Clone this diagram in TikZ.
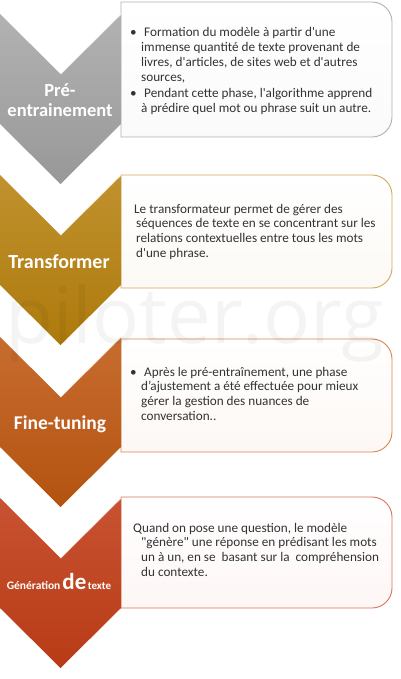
\documentclass[tikz,border=0pt]{standalone}
\usepackage{fontspec}
\newfontfamily\cfont{Carlito}
\newfontfamily\wfont{Open Sans}
\definecolor{txt}{HTML}{333333}
\definecolor{grayT}{HTML}{B2B2B2}\definecolor{grayB}{HTML}{989898}\definecolor{grayE}{HTML}{B0B0B0}
\definecolor{goldT}{HTML}{C0912E}\definecolor{goldB}{HTML}{AD7A0C}\definecolor{goldE}{HTML}{D2A85A}
\definecolor{oranT}{HTML}{C76C30}\definecolor{oranB}{HTML}{B45310}\definecolor{oranE}{HTML}{D8864E}
\definecolor{redT}{HTML}{C85232}\definecolor{redB}{HTML}{B83B15}\definecolor{redE}{HTML}{DC7258}
\newcommand\mychevron[3]{%
  \shade[top color=#2,bottom color=#3] (0,#1) -- (60.5,#1+60) -- (121,#1) -- (121,#1+110) -- (60.5,#1+170) -- (0,#1+110) -- cycle;
  \draw[white,line width=1.1pt,opacity=.75] (60.5,#1+60) -- (121,#1);}
\newcommand\mytextbox[3]{%
  \shadedraw[top color=white,bottom color=#3!6,draw=#3,line width=0.9pt]
    (121,#1) -- (372,#1) .. controls (383,#1) and (392,#1+9) .. (392,#1+20)
    -- (392,#2-20) .. controls (392,#2-9) and (383,#2) .. (372,#2) -- (121,#2) -- cycle;}
\begin{document}
\begin{tikzpicture}[x=1pt,y=-1pt,
  lab/.style={text=white,inner sep=0pt,anchor=base},
  labfont/.style={font=\cfont\bfseries\fontsize{#1}{#1}\selectfont},
  body/.style={text=txt,inner sep=0pt,anchor=base west,font=\cfont\fontsize{13.2}{14.8}\selectfont}]
\useasboundingbox (0,0) rectangle (400,679);
% text boxes
\mytextbox{2}{137}{grayE}
\mytextbox{175}{288}{goldE}
\mytextbox{339}{452}{oranE}
\mytextbox{497}{608}{redE}
% chevrons
\mychevron{14}{grayT}{grayB}
\mychevron{175}{goldT}{goldB}
\mychevron{337}{oranT}{oranB}
\mychevron{498}{redT}{redB}
% chevron labels
\node[lab,labfont=18.5] (l1a) at (60,97) {Pré-};
\node[lab,labfont=18.5] (l1b) at (60,117) {entrainement};
\node[lab,labfont=20] (l2) at (59,268) {Transformer};
\node[lab,labfont=19.5] (l3) at (60,429) {Fine-tuning};
\node[lab,font=\cfont\bfseries] (l4) at (59,589) {\fontsize{11.5}{12}\selectfont Génération\hspace{2pt}\fontsize{23}{24}\selectfont de\hspace{1.5pt}\fontsize{11}{12}\selectfont texte};
% box 1
\node[body] (b1a) at (130,37) {\textbullet};
\node[body] (t1a) at (141,37) {\begin{tabular}[t]{@{}l@{}}\hspace{3pt}Formation du modèle à partir d'une\\immense quantité de texte provenant de\\livres, d'articles, de sites web et d'autres\\sources,\end{tabular}};
\node[body] (b1b) at (130,98) {\textbullet};
\node[body] (t1b) at (141,98) {\begin{tabular}[t]{@{}l@{}}\hspace{3pt}Pendant cette phase, l'algorithme apprend\\à prédire quel mot ou phrase suit un autre.\end{tabular}};
% box 2
\node[body] (t2) at (136,213) {\begin{tabular}[t]{@{}l@{}}\hspace{-2pt}Le transformateur permet de gérer des\\séquences de texte en se concentrant sur les\\relations contextuelles entre tous les mots\\d'une phrase.\end{tabular}};
% box 3
\node[body] (b3) at (130,376) {\textbullet};
\node[body] (t3) at (141,376) {\begin{tabular}[t]{@{}l@{}}\hspace{3pt}Après le pré-entraînement, une phase\\d’ajustement a été effectuée pour mieux\\gérer la gestion des nuances de\\conversation..\end{tabular}};
% box 4
\node[body] (t4) at (141,532) {\begin{tabular}[t]{@{}l@{}}\hspace{-8pt}Quand on pose une question, le modèle\\"génère" une réponse en prédisant les mots\\un à un, en se\ \ basant sur la\ \ compréhension\\du contexte.\end{tabular}};
% watermark
\node[font=\wfont\fontsize{78}{78}\selectfont,text=black,opacity=0.045,inner sep=0pt,anchor=base] (wm) at (195,343) {piloter.org};
\end{tikzpicture}
\end{document}
